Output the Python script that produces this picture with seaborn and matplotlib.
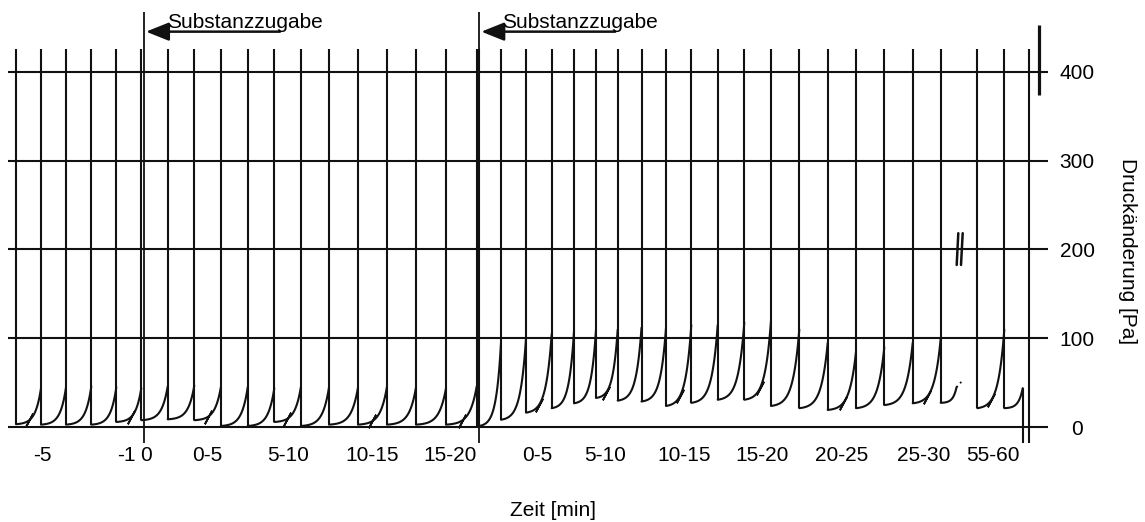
import numpy as np
import pandas as pd
import matplotlib
matplotlib.use("Agg")
import matplotlib.pyplot as plt
import seaborn as sns

# ---- beat-by-beat pressure trace (positions along the time strip, values in Pa) ----
# baseline period and first dose: beat starts (last entry closes the final beat)
pre_x = [16, 41, 66, 91.3, 116.3, 141.3, 167.7, 194.3, 221, 247.7, 274.3, 301,
         329, 358, 387, 416, 446, 476.7]
pre_min = [3.5, 3, 3, 3, 6, 8, 9, 8, 1.5, 1.5, 6, 1.5, 3, 3, 3, 3, 3]
pre_peak = [44, 45, 46, 45, 44, 46, 47, 46, 45, 44, 46, 45, 45, 46, 45, 44, 46]

# after the second dose
post_x = [479.3, 501, 526, 551.7, 574, 596, 617.7, 641.5, 666, 691.3, 717.7, 744.3,
          771, 799.3, 827.7, 856, 884.3, 912.7, 940.7]
post_min = [1.5, 8.5, 16.5, 21.5, 27, 33, 30, 29, 24, 27.5, 31, 31, 24, 21.5,
            19.5, 21.5, 25, 27]
post_peak = [95, 100, 105, 108, 110, 110, 112, 112, 115, 115, 118, 120, 110, 95,
             85, 90, 95, 100]

# last beat before the break (trace interrupted) and its dotted continuation
cut_x = [940.7, 956.5]
cut_v = [27.5, 45]
dots_x = [956.5, 962]
dots_v = [45, 52]

# 55-60 min segment
late_x = [977.3, 1004.3, 1022.7]
late_min = [21.5, 21.5]
late_peak = [110, 44]

trace_top = 426          # upper end of every systolic stroke
strip_end = 1029.3       # closing line of the strip

# 5-minute marks on the trace
mark_x = [29.3, 131, 208, 287, 372, 462, 539, 606, 680, 760, 843, 927, 991]

# doses
dose_x = [144, 479.3]
dose_text = ["Substanzzugabe", "Substanzzugabe"]

# time axis labels
tick_pos = [42, 126, 146, 207, 288, 372, 450, 537, 605, 684, 762, 842, 924, 993]
tick_lab = ["-5", "-1", "0", "0-5", "5-10", "10-15", "15-20", "0-5", "5-10",
            "10-15", "15-20", "20-25", "25-30", "55-60"]
p_ticks = [0, 100, 200, 300, 400]

K = 4.5  # curvature of the filling phase


def beat_curve(x0, x1, vmin, vend, n=60):
    t = np.linspace(0, 1, n)
    f = (np.exp(K * t) - 1) / (np.exp(K) - 1)
    return x0 + (x1 - x0) * t, vmin + (vend - vmin) * f


rows = []
beats = []
for xs, mins, peaks in [(pre_x, pre_min, pre_peak), (post_x, post_min, post_peak),
                        (late_x, late_min, late_peak)]:
    for i in range(len(mins)):
        beats.append((xs[i], xs[i + 1], mins[i], peaks[i]))
beats.append((cut_x[0], cut_x[1], cut_v[0], cut_v[1]))

for b, (x0, x1, vmin, vend) in enumerate(beats):
    cx, cy = beat_curve(x0, x1, vmin, vend)
    rows.append(pd.DataFrame({"x": cx, "p": cy, "beat": b}))
trace = pd.DataFrame(pd.concat(rows, ignore_index=True))


def value_at(x):
    for x0, x1, vmin, vend in beats:
        if x0 <= x <= x1:
            cx, cy = beat_curve(x0, x1, vmin, vend, n=400)
            return float(np.interp(x, cx, cy))
    return np.nan


sns.set_theme(style="white")
plt.rcParams["font.family"] = ["Liberation Sans", "DejaVu Sans"]
plt.rcParams["font.size"] = 15
plt.rcParams["text.color"] = "black"
plt.rcParams["xtick.color"] = "black"
plt.rcParams["ytick.color"] = "black"

W, H = 1145, 522
fig = plt.figure(figsize=(W / 100, H / 100), dpi=100)
ax = fig.add_axes([8 / W, (H - 443) / H, (1048 - 8) / W, (443 - 12) / H])
ax.set_xlim(8, 1048)
ax.set_ylim(-17.66, 467.1)

lw = 1.5
ink = "#111111"
# filling curves
sns.lineplot(data=trace, x="x", y="p", units="beat", estimator=None, sort=False,
             color=ink, linewidth=lw, legend=False, ax=ax)

# systolic strokes at each beat start
ax.vlines([b[0] for b in beats], [b[2] for b in beats], trace_top,
          color=ink, linewidth=lw)
ax.vlines(pre_x[-1], 0, trace_top, color=ink, linewidth=lw)
ax.vlines(late_x[-1], -17.66, late_peak[-1], color=ink, linewidth=lw)
ax.vlines(strip_end, -17.66, trace_top, color=ink, linewidth=lw)

# dotted continuation and break symbol
ax.plot(dots_x, dots_v, color=ink, linestyle=(0, (1, 2)), linewidth=1.3)
ax.plot([958.3, 956.7], [218.3, 182.6], color=ink, linewidth=1.8)
ax.plot([962.7, 961.0], [218.3, 182.6], color=ink, linewidth=1.8)

# calibration bar
ax.vlines(1038.7, 373.9, 452.6, color=ink, linewidth=2.3)

# 5-minute marks
ax.plot(mark_x, [value_at(x) for x in mark_x], linestyle="none",
        marker=(2, 2, -28), markersize=11, markeredgewidth=1.3, color=ink)

# dose markers with arrows
for dx, txt in zip(dose_x, dose_text):
    ax.axvline(dx, color=ink, linewidth=1.3)
    ax.annotate("", xy=(dx + 2, 445), xytext=(dx + 136, 445),
                arrowprops=dict(arrowstyle="-|>,head_length=0.7,head_width=0.28",
                                color=ink, lw=1.8, shrinkA=0, shrinkB=0,
                                mutation_scale=20),
                annotation_clip=False)
    ax.text(dx + 23, 449.3, txt, ha="left", va="baseline", fontsize=15,
            color="black", clip_on=False)

# pressure grid and labels on the right
ax.set_yticks(p_ticks)
ax.yaxis.tick_right()
ax.grid(axis="y", color=ink, linewidth=lw)
ax.grid(axis="x", visible=False)
ax.tick_params(axis="y", length=0, pad=21, labelsize=15, labelcolor="black")
for lab in ax.get_yticklabels():
    lab.set_horizontalalignment("center")

ax.set_xticks(tick_pos, tick_lab)
ax.tick_params(axis="x", length=0, pad=2, labelsize=15, labelcolor="black")
ax.set_xlabel("")
ax.set_ylabel("")
for s in ax.spines.values():
    s.set_visible(False)

fig.text(1128 / W, 1 - 251 / H, "Druckänderung [Pa]", rotation=-90,
         ha="center", va="center", fontsize=15, color="black")
fig.text(553 / W, 1 - 510 / H, "Zeit [min]", ha="center", va="center",
         fontsize=15, color="black")

fig.savefig("out.png", dpi=100, facecolor="white")
